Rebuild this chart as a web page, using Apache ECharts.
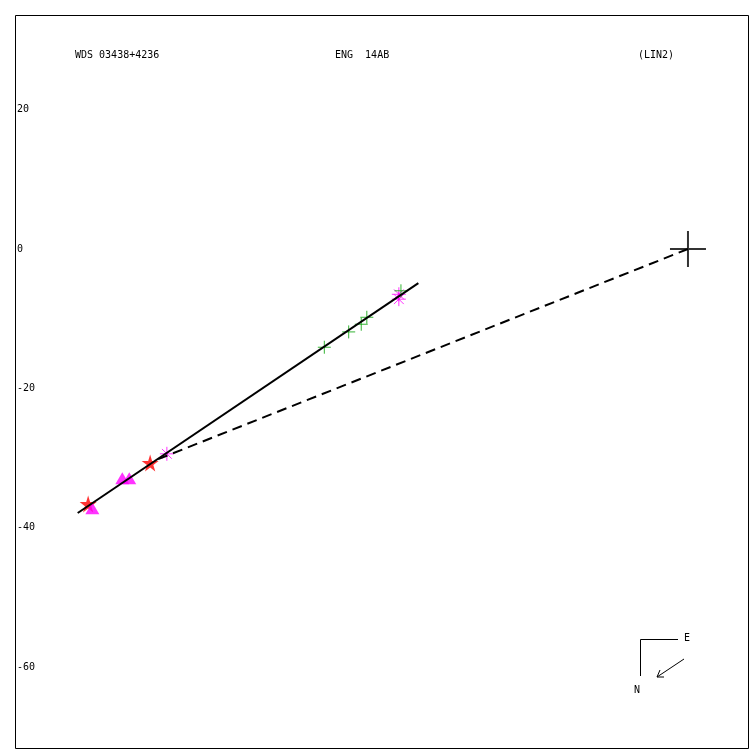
<!DOCTYPE html>
<html>
<head>
<meta charset="utf-8">
<script src="https://cdn.jsdelivr.net/npm/echarts@6/dist/echarts.min.js"></script>
<style>html,body{margin:0;padding:0;background:#fff}#c{width:750px;height:750px}</style>
</head>
<body>
<div id="c"></div>
<script>
// ---- data (arcseconds-like offsets, x = east-west, y = north-south) ----
var redStars = [[-86.1, -36.6], [-77.2, -30.7]];
var magentaTriangles = [[-85.5, -37.2], [-81.2, -32.9], [-80.2, -32.9]];
var magentaAsterisks = [[-74.8, -29.4], [-41.5, -6.5], [-41.5, -7.2]];
var greenPlus = [[-52.2, -14.1], [-48.7, -11.9], [-46.9, -10.8], [-46.1, -9.8], [-41.2, -6.0]];
var fitLine = [[-87.6, -37.9], [-38.7, -4.9]];
var dashedLine = [[0, 0], [-76.4, -30.3]];
var primary = [[0, 0]];
var yTicks = [20, 0, -20, -40, -60];
var titleLeft = 'WDS 03438+4236';
var titleMid = 'ENG  14AB';
var titleRight = '(LIN2)';

var FONT = '"DejaVu Sans Mono", monospace';
var starPath = 'path://M50,0 L61,35 L98,35 L68,57 L79,91 L50,70 L21,91 L32,57 L2,35 L39,35 Z';
var plusPath = 'path://M0,5 L10,5 M5,0 L5,10';
var asteriskPath = 'path://M0,5 L10,5 M5,0 L5,10 M1.5,1.5 L8.5,8.5 M1.5,8.5 L8.5,1.5';

var chart = echarts.init(document.getElementById('c'), null, {renderer: 'canvas'});
chart.setOption({
  animation: false,
  backgroundColor: '#fff',
  grid: {left: 15, right: 1, top: 15, bottom: 1, containLabel: false},
  xAxis: {
    type: 'value', min: -96.6, max: 8.76,
    show: false, splitLine: {show: false}
  },
  yAxis: {
    type: 'value', min: -71.77, max: 33.59,
    axisLine: {show: false},
    axisTick: {show: false},
    splitLine: {show: false},
    axisLabel: {
      show: true, inside: true, margin: 2,
      customValues: yTicks,
      padding: [4, 0, 0, 0],
      color: '#000', fontFamily: FONT, fontSize: 10
    }
  },
  graphic: [
    {type: 'rect', shape: {x: 15.5, y: 15.5, width: 733, height: 733},
     style: {fill: 'none', stroke: '#000', lineWidth: 1}, z: 100},
    {type: 'text', x: 75, y: 55, style: {text: titleLeft, font: '10px ' + FONT, fill: '#000', textVerticalAlign: 'middle'}},
    {type: 'text', x: 335, y: 55, style: {text: titleMid, font: '10px ' + FONT, fill: '#000', textVerticalAlign: 'middle'}},
    {type: 'text', x: 638, y: 55, style: {text: titleRight, font: '10px ' + FONT, fill: '#000', textVerticalAlign: 'middle'}},
    // compass
    {type: 'polyline', shape: {points: [[678, 639.5], [640.5, 639.5], [640.5, 676]]}, style: {stroke: '#000', lineWidth: 1, fill: 'none'}},
    {type: 'text', x: 684, y: 638, style: {text: 'E', font: '10px ' + FONT, fill: '#000', textVerticalAlign: 'middle'}},
    {type: 'text', x: 634, y: 690, style: {text: 'N', font: '10px ' + FONT, fill: '#000', textVerticalAlign: 'middle'}},
    {type: 'line', shape: {x1: 684, y1: 659, x2: 657, y2: 677}, style: {stroke: '#000', lineWidth: 1}},
    {type: 'polyline', shape: {points: [[660, 670], [657, 677], [664, 677]]}, style: {stroke: '#000', lineWidth: 1, fill: 'none'}}
  ],
  series: [
    {type: 'scatter', data: redStars, symbol: starPath, symbolSize: 17,
     itemStyle: {color: '#ff0000'}, z: 2},
    {type: 'scatter', data: magentaTriangles, symbol: 'triangle', symbolSize: [14, 12],
     itemStyle: {color: '#ff00ff'}, z: 2},
    {type: 'scatter', data: magentaAsterisks, symbol: asteriskPath, symbolSize: 14,
     itemStyle: {color: 'rgba(0,0,0,0)', borderColor: '#ff00ff', borderWidth: 1}, z: 3},
    {type: 'scatter', data: greenPlus, symbol: plusPath, symbolSize: 13,
     itemStyle: {color: 'rgba(0,0,0,0)', borderColor: '#00a000', borderWidth: 1}, z: 3},
    {type: 'scatter', data: primary, symbol: plusPath, symbolSize: 36,
     itemStyle: {color: 'rgba(0,0,0,0)', borderColor: '#000', borderWidth: 2}, z: 4},
    {type: 'line', data: fitLine, showSymbol: false, symbol: 'none',
     lineStyle: {color: '#000', width: 2}, z: 5},
    {type: 'line', data: dashedLine, showSymbol: false, symbol: 'none',
     lineStyle: {color: '#000', width: 2, type: [10, 6]}, z: 5}
  ]
});
</script>
</body>
</html>
